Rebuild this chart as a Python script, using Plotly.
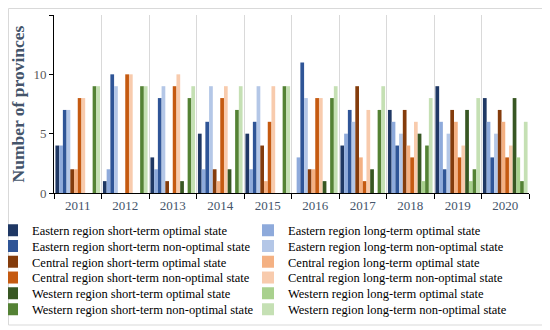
import plotly.graph_objects as go

years = ["2011", "2012", "2013", "2014", "2015", "2016", "2017", "2018", "2019", "2020"]

series_names = [
    "Eastern region short-term optimal state",
    "Eastern region long-term optimal state",
    "Eastern region short-term non-optimal state",
    "Eastern region long-term non-optimal state",
    "Central region short-term optimal state",
    "Central region long-term optimal state",
    "Central region short-term non-optimal state",
    "Central region long-term non-optimal state",
    "Western region short-term optimal state",
    "Western region long-term optimal state",
    "Western region short-term non-optimal state",
    "Western region long-term non-optimal state",
]

east_short_opt = [4, 1, 3, 5, 5, 0, 4, 7, 9, 8]
east_long_opt = [4, 2, 2, 2, 2, 3, 5, 6, 6, 6]
east_short_non = [7, 10, 8, 6, 6, 11, 7, 4, 2, 3]
east_long_non = [7, 9, 9, 9, 9, 8, 6, 5, 5, 5]
central_short_opt = [2, 0, 1, 2, 4, 2, 9, 7, 7, 7]
central_long_opt = [2, 0, 0, 1, 1, 2, 3, 4, 6, 6]
central_short_non = [8, 10, 9, 8, 6, 8, 1, 3, 3, 3]
central_long_non = [8, 10, 10, 9, 9, 8, 7, 6, 4, 4]
west_short_opt = [0, 0, 1, 2, 0, 1, 2, 5, 7, 8]
west_long_opt = [0, 0, 0, 0, 0, 0, 0, 1, 1, 3]
west_short_non = [9, 9, 8, 7, 9, 8, 7, 4, 2, 1]
west_long_non = [9, 9, 9, 9, 9, 9, 9, 8, 8, 6]

series_values = [
    east_short_opt, east_long_opt, east_short_non, east_long_non,
    central_short_opt, central_long_opt, central_short_non, central_long_non,
    west_short_opt, west_long_opt, west_short_non, west_long_non,
]

colors = [
    "#1F3864", "#8EAADB", "#2F5597", "#B4C7E7",
    "#843C0C", "#F4B183", "#C55A11", "#F8CBAD",
    "#385723", "#A9D18E", "#548235", "#C5E0B4",
]

# the page body adds an 8px offset, so the figure is sized to fit the window
W, H = 542, 322
ML, MR, MT, MB = 46, 21, 7, 137
FONT = "Liberation Serif, Times New Roman, serif"
pw = W - ML - MR
ph = H - MT - MB

# legend grid (figure pixels): two columns, six rows
LEG_COL_LEFT = [-16, 240]
LEG_ROW0 = 222.5
LEG_ROW_STEP = 15.8


def px_to_paper_x(px):
    return (px - ML) / pw


def px_to_paper_y(py):
    return (H - MB - py) / ph


def legend_id(i):
    return "legend" if i == 0 else f"legend{i + 1}"


fig = go.Figure()
for i, (name, vals, col) in enumerate(zip(series_names, series_values, colors)):
    fig.add_trace(go.Bar(x=years, y=vals, name=name, legend=legend_id(i),
                         marker=dict(color=col, line=dict(width=0))))

legends = {}
for i in range(len(series_names)):
    r, c = divmod(i, 2)
    legends[legend_id(i)] = dict(
        orientation="v", xref="paper", yref="paper",
        x=px_to_paper_x(LEG_COL_LEFT[c]),
        y=px_to_paper_y(LEG_ROW0 + LEG_ROW_STEP * r),
        xanchor="left", yanchor="middle",
        itemwidth=30,
        font=dict(family=FONT, size=12.5, color="#000000"),
        bgcolor="rgba(0,0,0,0)",
    )

# light chart-area frame
fig.add_shape(
    type="rect", xref="paper", yref="paper",
    x0=px_to_paper_x(0.5), x1=px_to_paper_x(W - 3),
    y0=px_to_paper_y(H - 5), y1=px_to_paper_y(0.5),
    line=dict(color="#D9D9D9", width=1), fillcolor="rgba(0,0,0,0)", layer="below",
)

fig.update_layout(
    width=W, height=H,
    margin=dict(l=ML, r=MR, t=MT, b=MB, pad=0, autoexpand=False),
    paper_bgcolor="white", plot_bgcolor="white",
    barmode="group", bargap=0.06, bargroupgap=0,
    font=dict(family=FONT, size=13, color="#000000"),
    showlegend=True,
    xaxis=dict(
        type="category", tickson="boundaries", automargin=False,
        showgrid=True, gridcolor="#D9D9D9", gridwidth=1,
        showline=True, linecolor="#000000", linewidth=1,
        ticks="outside", ticklen=5, tickcolor="#000000",
        tickfont=dict(family=FONT, size=13, color="#44546A"),
    ),
    yaxis=dict(
        range=[0, 15], dtick=5, tick0=0, automargin=False,
        showgrid=False, zeroline=False,
        showline=True, linecolor="#000000", linewidth=1,
        ticks="outside", ticklen=4, tickcolor="#000000",
        tickfont=dict(family=FONT, size=13, color="#595959"),
        title=dict(text="<b>Number of provinces</b>", standoff=5,
                   font=dict(family=FONT, size=17.5, color="#44546A")),
    ),
    **legends,
)

fig.write_html("out.html")
